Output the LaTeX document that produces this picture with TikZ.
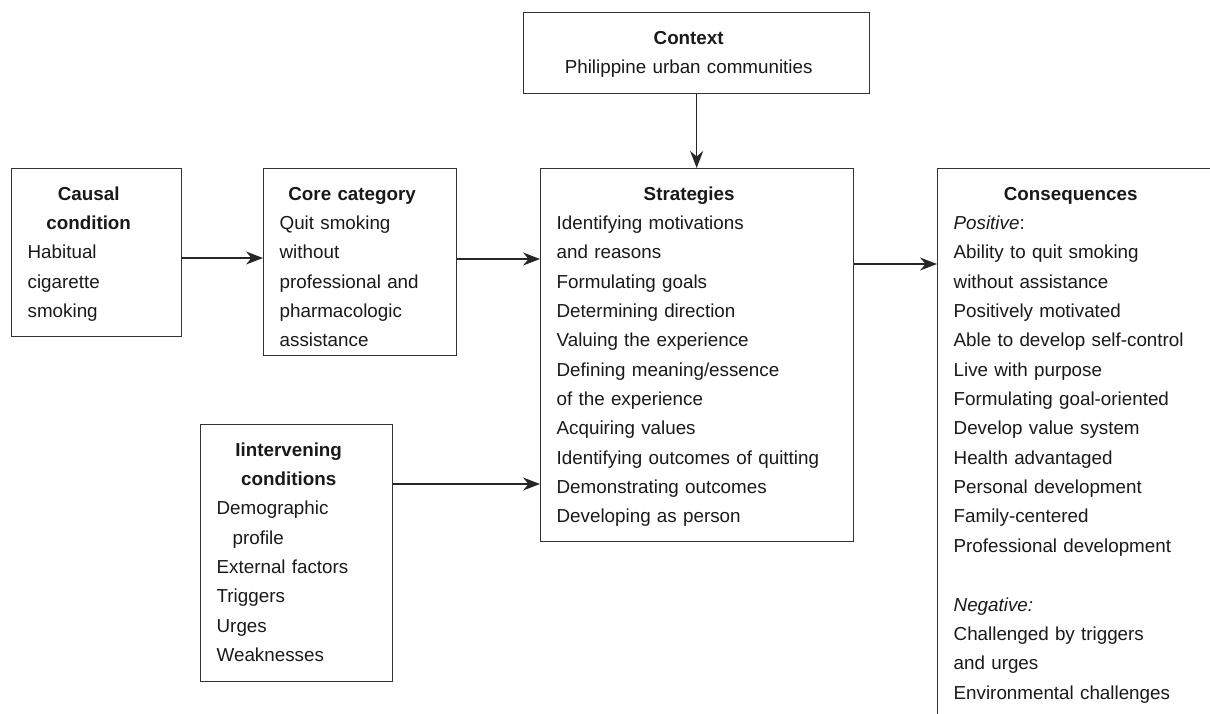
\documentclass[tikz,border=0pt]{standalone}
\usepackage{fontspec}
\setmainfont{Liberation Sans}
\usepackage{tikz}
\usetikzlibrary{arrows.meta,positioning}
\setlength{\parindent}{0pt}

\newcommand{\midline}[1]{{\centering\rightskip=0.32cm plus 1fil\relax #1\par}}

\begin{document}
\begin{tikzpicture}[box/.style={draw=black!80,line width=0.75pt,anchor=north west,align=left,
		inner xsep=0.32cm,inner ysep=0pt,text height=0.63cm,text=black!90,
		font=\fontsize{10.7pt}{16.7pt}\selectfont},
	arr/.style={draw=black!85,line width=0.75pt,-{Stealth[length=0.34cm,width=0.26cm]}}]
\useasboundingbox (0,0) rectangle (24.2,-14.26);

\node [box,text width=6.28cm,text depth=0.98cm] (context) at (10.46,-0.24)
	{\midline{\bfseries Context}\midline{Philippine urban communities}};
\node [box,text width=2.76cm,text depth=2.72cm] (causal) at (0.22,-3.36)
	{\midline{\bfseries Causal\\condition}Habitual\\cigarette\\smoking};
\node [box,text width=3.22cm,text depth=3.1cm] (core) at (5.26,-3.36)
	{\midline{\bfseries Core category}Quit smoking\\without\\professional and\\pharmacologic\\assistance};
\node [box,text width=5.62cm,text depth=6.82cm] (strat) at (10.8,-3.36)
	{\midline{\bfseries Strategies}Identifying motivations\\and reasons\\Formulating goals\\
	Determining direction\\Valuing the experience\\Defining meaning/essence\\of the experience\\
	Acquiring values\\Identifying outcomes of quitting\\Demonstrating outcomes\\Developing as person};
\node [box,text width=3.2cm,text depth=4.5cm] (interv) at (4.0,-8.48)
	{\midline{\bfseries Iintervening\\conditions}Demographic\\\hspace*{0.32cm}profile\\External factors\\
	Triggers\\Urges\\Weaknesses};
\node [box,text width=5.0cm,text depth=11cm] (cons) at (18.74,-3.36)
	{\midline{\bfseries Consequences}\textit{Positive}:\\Ability to quit smoking\\without assistance\\
	Positively motivated\\Able to develop self-control\\Live with purpose\\Formulating goal-oriented\\
	Develop value system\\Health advantaged\\Personal development\\Family-centered\\
	Professional development\\[16.7pt]\textit{Negative:}\\Challenged by triggers\\and urges\\
	Environmental challenges};

\coordinate (c1) at ([yshift=-1.8cm]causal.north east);
\coordinate (c2) at ([yshift=-1.82cm]core.north east);
\coordinate (c3) at ([yshift=-1.2cm]interv.north east);
\coordinate (c4) at ([yshift=-1.92cm]strat.north east);

\draw [arr] (context.south) -- (context.south |- strat.north);
\draw [arr] (c1) -- (c1 -| core.west);
\draw [arr] (c2) -- (c2 -| strat.west);
\draw [arr] (c3) -- (c3 -| strat.west);
\draw [arr] (c4) -- (c4 -| cons.west);
\end{tikzpicture}
\end{document}
